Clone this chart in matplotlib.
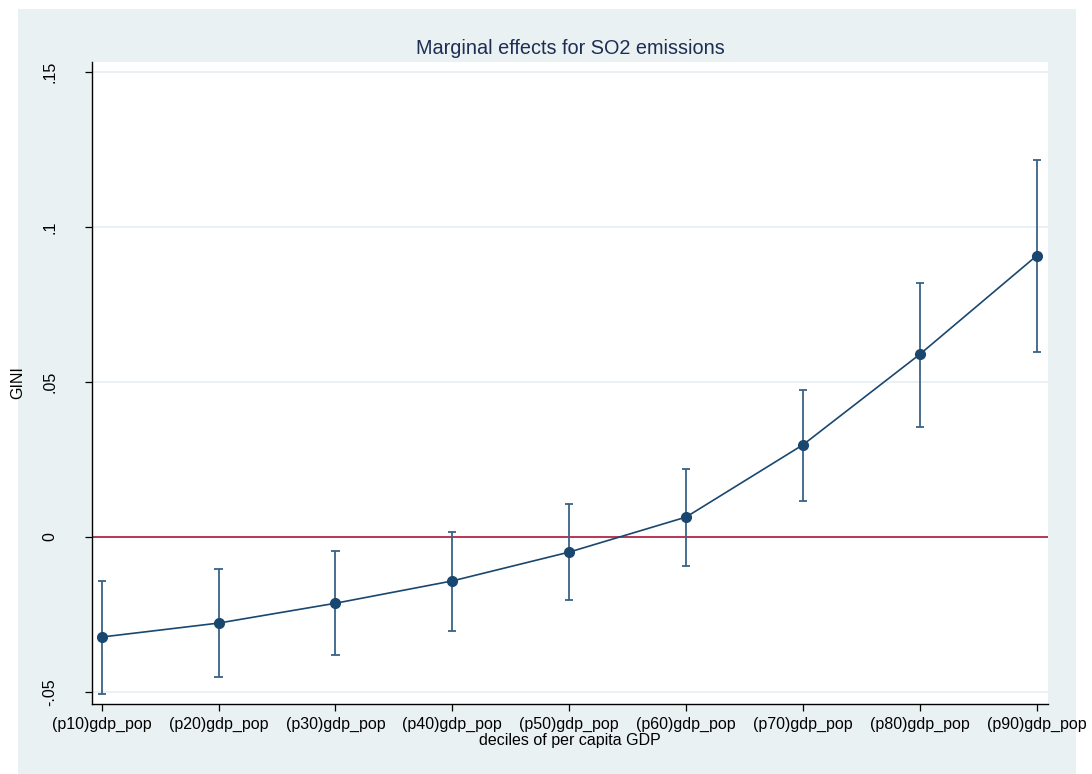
import matplotlib
matplotlib.use("Agg")
import matplotlib.pyplot as plt
from matplotlib.patches import Rectangle

categories = ["(p10)gdp_pop", "(p20)gdp_pop", "(p30)gdp_pop", "(p40)gdp_pop",
              "(p50)gdp_pop", "(p60)gdp_pop", "(p70)gdp_pop", "(p80)gdp_pop",
              "(p90)gdp_pop"]
margins = [-0.0323, -0.0278, -0.0214, -0.0142, -0.0049, 0.0064, 0.0297, 0.0589, 0.0907]
ci_upper = [-0.0142, -0.0103, -0.0045, 0.0016, 0.0107, 0.0219, 0.0474, 0.0820, 0.1215]
ci_lower = [-0.0506, -0.0453, -0.0380, -0.0304, -0.0205, -0.0094, 0.0117, 0.0354, 0.0597]
yticks = [-0.05, 0, 0.05, 0.1, 0.15]
ytick_labels = ["-.05", "0", ".05", ".1", ".15"]

plt.rcParams['font.family'] = ['Liberation Sans', 'DejaVu Sans']

W, H = 1092, 774
fig = plt.figure(figsize=(W / 100, H / 100), dpi=100)
fig.patch.set_facecolor("white")
bg = "#eaf1f3"
fig.patches.append(Rectangle((18 / W, 0), (1076 - 18) / W, 1 - 9 / H,
                             transform=fig.transFigure, facecolor=bg,
                             edgecolor="none", zorder=-10))

left, right, top, bottom = 92, 1048, 62, 704
ax = fig.add_axes([left / W, 1 - bottom / H, (right - left) / W, (bottom - top) / H])
ax.set_facecolor("white")

x = list(range(1, len(categories) + 1))
navy = "#1a476f"
ax.vlines(x, ci_lower, ci_upper, color="#3a6286", lw=1.3, zorder=2)
ax.hlines(ci_lower, [v - 0.035 for v in x], [v + 0.035 for v in x], color="#3a6286", lw=1.3, zorder=2)
ax.hlines(ci_upper, [v - 0.035 for v in x], [v + 0.035 for v in x], color="#3a6286", lw=1.3, zorder=2)
ax.plot(x, margins, color=navy, lw=1.2, marker="o", markersize=7, zorder=3)
ax.axhline(0, color="#b0173a", lw=1.2, zorder=1.5)

ax.set_xlim(0.917, 9.097)
ax.set_ylim(-0.0539, 0.1532)
ax.set_yticks(yticks)
ax.set_yticklabels(ytick_labels, rotation=90, va="center", fontsize=11.5)
ax.set_xticks(x)
ax.set_xticklabels(categories, fontsize=11.5)
ax.grid(axis="y", color="#e6eef1", lw=1.2, zorder=0)
ax.set_axisbelow(True)
for s in ["top", "right"]:
    ax.spines[s].set_visible(False)
for s in ["left", "bottom"]:
    ax.spines[s].set_color("black")
    ax.spines[s].set_linewidth(1.0)
ax.tick_params(axis="both", direction="out", length=5, width=0.9, colors="black")
ax.tick_params(axis="y", pad=20)
ax.tick_params(axis="x", pad=4)

ax.set_title("Marginal effects for SO2 emissions", fontsize=14.3, color="#1e2d52", pad=6)
ax.set_xlabel("deciles of per capita GDP", fontsize=11.5, labelpad=1)
ax.set_ylabel("GINI", fontsize=11.5, labelpad=12)

fig.savefig("out.png", dpi=100, facecolor=fig.get_facecolor())
